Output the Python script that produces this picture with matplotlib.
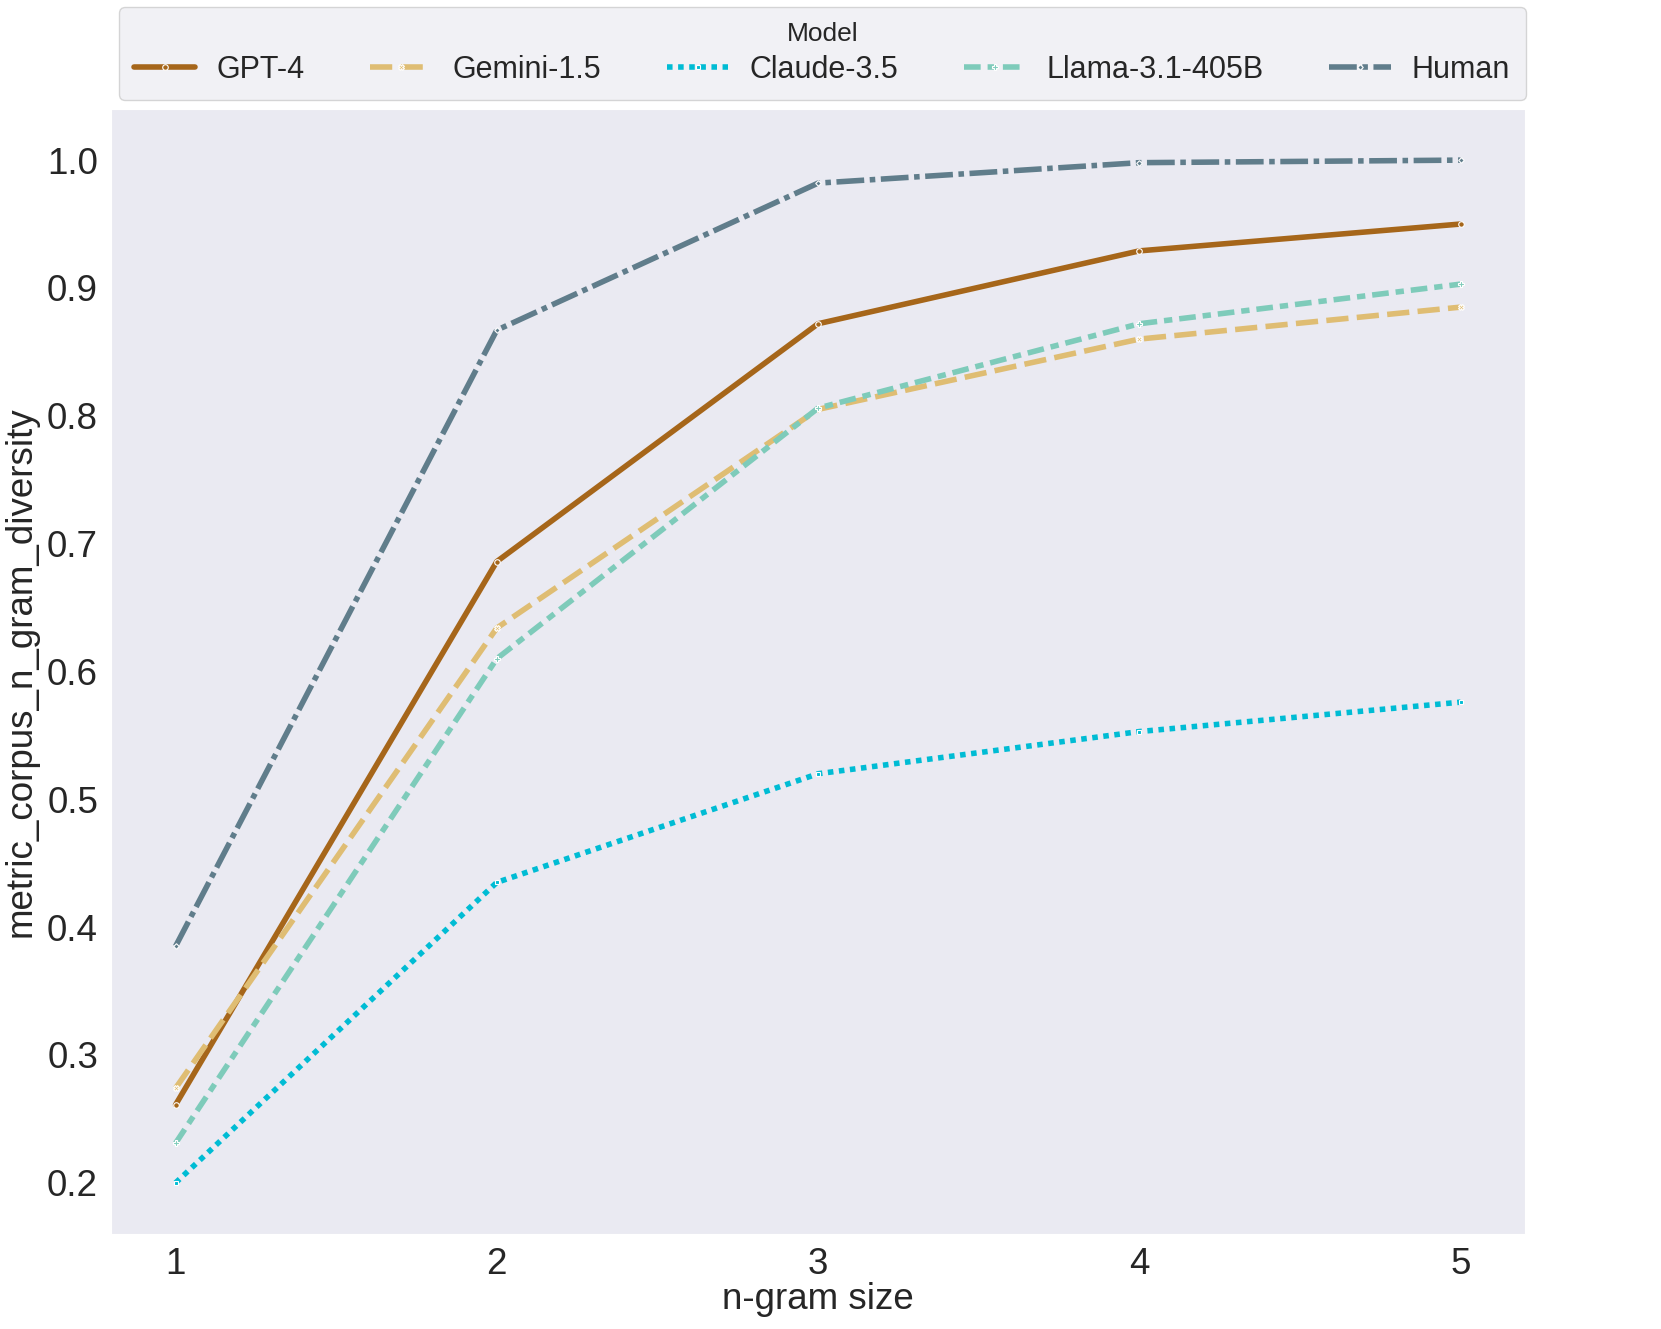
import matplotlib
matplotlib.use("Agg")
import matplotlib.pyplot as plt
import seaborn as sns

# n-gram diversity per model
ngram_sizes = [1, 2, 3, 4, 5]
models = ["GPT-4", "Gemini-1.5", "Claude-3.5", "Llama-3.1-405B", "Human"]

gpt4 = [0.261, 0.686, 0.872, 0.929, 0.950]
gemini = [0.274, 0.634, 0.805, 0.860, 0.885]
claude = [0.200, 0.435, 0.520, 0.553, 0.576]
llama = [0.231, 0.610, 0.806, 0.872, 0.903]
human = [0.385, 0.867, 0.982, 0.998, 1.000]

series = [gpt4, gemini, claude, llama, human]
colors = ["#A6661A", "#DFBD73", "#00BCD4", "#7ECBBA", "#607D8B"]
dashes = [(None, None), (4, 1.5), (1, 1), (3, 1.25, 1.5, 1.25), (5, 1, 1, 1)]
markers = ["o", "X", (4, 0, 45), "P", (4, 0, 0)]

sns.set_style("dark")
plt.rcParams["font.family"] = ["Liberation Sans", "DejaVu Sans"]

fig = plt.figure(figsize=(16.61, 13.29), dpi=100)
ax = fig.add_axes([0.067, 0.0715, 0.851, 0.8465])

for name, vals, c, d, m in zip(models, series, colors, dashes, markers):
    line, = ax.plot(ngram_sizes, vals, color=c, lw=4, marker=m, markersize=4,
                    markeredgecolor="white", markeredgewidth=0.8, label=name)
    if d[0] is not None:
        line.set_dashes(d)

ax.set_xticks(ngram_sizes)
ax.set_xlim(0.8, 5.2)
ax.set_ylim(0.16, 1.04)
ax.set_yticks([0.2, 0.3, 0.4, 0.5, 0.6, 0.7, 0.8, 0.9, 1.0])
ax.tick_params(labelsize=26.5, pad=6)
ax.set_xlabel("n-gram size", fontsize=26.5, labelpad=0)
ax.set_ylabel("metric_corpus_n_gram_diversity", fontsize=26.5, labelpad=6)

leg = fig.legend(loc="upper center", bbox_to_anchor=(0.495, 0.995), ncol=5,
                 title="Model", fontsize=22, title_fontsize=19,
                 handlelength=2.0, handletextpad=0.7, columnspacing=2.15,
                 frameon=True, borderpad=0.5, borderaxespad=0, labelspacing=0.3)
leg.get_frame().set_facecolor("#EEEEF3")
leg.get_frame().set_edgecolor("#CCCCCC")

fig.savefig("out.png", dpi=100)
